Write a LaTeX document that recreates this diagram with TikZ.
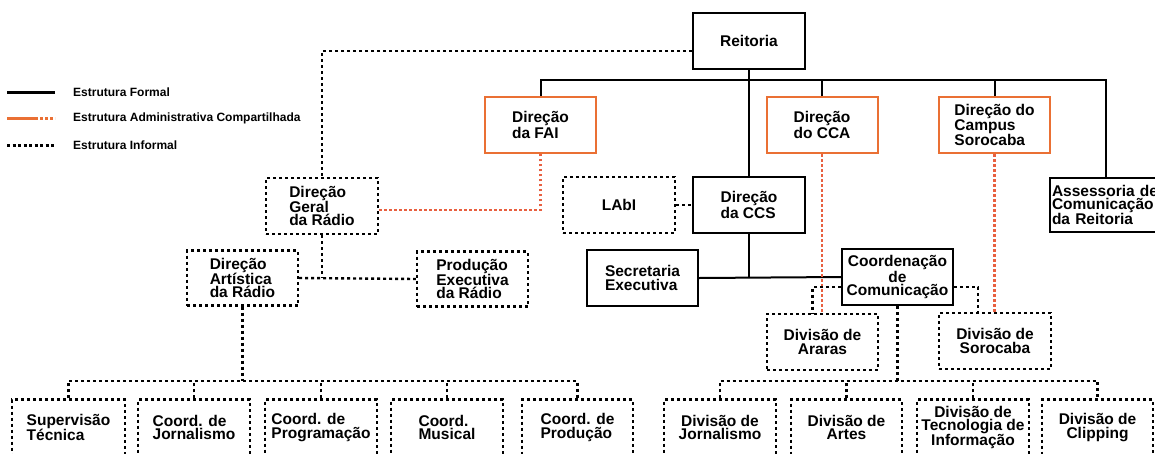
\documentclass[tikz,border=0pt]{standalone}
\usepackage{fontspec}
\setmainfont{Liberation Sans}
\definecolor{orng}{RGB}{234,112,52}
\definecolor{orngdot}{RGB}{232,96,64}
\begin{document}
\begin{tikzpicture}[x=1pt,y=-1pt,
  lbl/.style={font=\fontsize{15.5}{13.2}\selectfont\bfseries, inner sep=0pt},
  formalbox/.style={draw, line width=2pt, minimum width=112pt, minimum height=56pt, lbl},
  orangebox/.style={formalbox, draw=orng},
  infbox/.style={formalbox, line width=2.4pt, dash pattern=on 3pt off 3pt},
  formal/.style={line width=2pt},
  informal/.style={line width=2.4pt, dash pattern=on 3pt off 3pt},
  shared/.style={line width=2.2pt, draw=orngdot, dash pattern=on 2.5pt off 2.5pt},
  legtext/.style={anchor=west, inner sep=0pt, font=\fontsize{12}{12}\selectfont\bfseries},
]
\useasboundingbox (0,0) rectangle (1155,453);
\clip (0,0) rectangle (1155,453);
\fill[white] (0,0) rectangle (1155,453);

% legend
\coordinate (la1) at (7,92);  \coordinate (lb1) at (55,92);
\coordinate (la2) at (7,118); \coordinate (lm2) at (35,118); \coordinate (lb2) at (55,118);
\coordinate (la3) at (7,145); \coordinate (lb3) at (55,145);
\draw[line width=3pt] (la1) -- (lb1);
\draw[line width=3pt, orng] (la2) -- (lm2);
\draw[line width=3pt, orng, dash pattern=on 2.5pt off 2.5pt] (lm2) -- (lb2);
\draw[line width=3pt, dash pattern=on 3pt off 2.5pt] (la3) -- (lb3);
\node[legtext] (lt1) at (73,92) {Estrutura Formal};
\node[legtext] (lt2) at (73,118) {Estrutura Administrativa Compartilhada};
\node[legtext] (lt3) at (73,145) {Estrutura Informal};

% top level
\node[formalbox] (reit) at (749,41) {Reitoria};
\node[orangebox, align=left, minimum width=111pt] (fai) at (540.5,125) {Direção\\da FAI};
\node[orangebox, align=left, minimum width=111pt] (cca) at (822,125) {Direção\\do CCA};
\node[orangebox, align=left, minimum width=111pt] (campus) at (994.5,125) {Direção do\\Campus\\Sorocaba};
\node[formalbox, minimum height=54pt, align=left, text width=108pt] (assess) at (1106,205) {Assessoria de\\Comunicação\\da Reitoria};

% radio
\node[infbox, align=left] (geral) at (322,206) {Direção\\Geral\\da Rádio};
\node[infbox, align=left, minimum width=111pt, minimum height=55pt] (art) at (242.5,278) {Direção\\Artística\\da Rádio};
\node[infbox, align=left, minimum width=111pt, minimum height=55pt] (prod) at (472.5,279) {Produção\\Executiva\\da Rádio};

% CCS
\node[infbox] (labi) at (619,205) {LAbI};
\node[formalbox, align=left] (ccs) at (749,205) {Direção\\da CCS};
\node[formalbox, align=left, minimum width=111pt] (sec) at (642.5,278) {Secretaria\\Executiva};
\node[formalbox, align=center, minimum width=111pt] (coord) at (897.5,277) {Coordenação\\de\\Comunicação};
\node[infbox, align=center, minimum width=111pt] (arar) at (822.5,342) {Divisão de\\Araras};
\node[infbox, align=center] (dsor) at (995,341) {Divisão de\\Sorocaba};

% bottom row left
\node[infbox, align=left, minimum width=113pt] (sup) at (68.5,427.5) {Supervisão\\Técnica};
\node[infbox, align=left] (cjor) at (194,427.5) {Coord. de\\Jornalismo};
\node[infbox, align=left] (cprog) at (321,427.5) {Coord. de\\Programação};
\node[infbox, align=left] (cmus) at (447,427.5) {Coord.\\Musical};
\node[infbox, align=left, minimum width=111pt] (cprod) at (577.5,427.5) {Coord. de\\Produção};

% bottom row right
\node[infbox, align=center] (djor) at (720,427.5) {Divisão de\\Jornalismo};
\node[infbox, align=center, minimum width=111pt] (dart) at (846.5,427.5) {Divisão de\\Artes};
\node[infbox, align=center] (dtec) at (973,427.5) {Divisão de\\Tecnologia de\\Informação};
\node[infbox, align=center, minimum width=111pt] (dclip) at (1097.5,427.5) {Divisão de\\Clipping};

% formal connectors
\coordinate (busL) at (540.5,80);
\coordinate (busR) at (1106,80);
\draw[formal] (fai.north) -- (busL) -- (busR) -- (assess.north);
\draw[formal] (cca.north) -- (cca.north |- busL);
\draw[formal] (campus.north) -- (campus.north |- busL);
\draw[formal] (reit.south) -- (ccs.north);
\draw[formal] (ccs.south) -- (ccs.south |- sec.east);
\draw[formal] (sec.east) -- (coord.west);

% shared (orange) connectors
\draw[shared] ([yshift=-4pt]geral.east) -| (fai.south);
\draw[shared] (cca.south) -- (cca.south |- arar.north);
\draw[shared] (campus.south) -- (campus.south |- dsor.north);

% informal connectors
\coordinate (busy) at (0,381);
\draw[informal] ([yshift=-10pt]reit.west) -| (geral.north);
\draw[informal] (labi.east) -- (ccs.west);
\draw[informal] (art.east) -- (prod.west);
\draw[informal] (geral.south) -- (geral.south |- art.east);
\draw[informal] (art.south) -- (art.south |- busy);
\draw[informal] (sup.north) -- (sup.north |- busy) -- (cprod.north |- busy) -- (cprod.north);
\draw[informal] (cjor.north) -- (cjor.north |- busy);
\draw[informal] (cprog.north) -- (cprog.north |- busy);
\draw[informal] (cmus.north) -- (cmus.north |- busy);
\draw[informal] ([yshift=-10pt]coord.west) -| ([xshift=-10pt]arar.north);
\draw[informal] ([yshift=-10pt]coord.east) -| ([xshift=-17pt]dsor.north);
\draw[informal] (coord.south) -- (coord.south |- busy);
\draw[informal] (djor.north) -- (djor.north |- busy) -- (dclip.north |- busy) -- (dclip.north);
\draw[informal] (dart.north) -- (dart.north |- busy);
\draw[informal] (dtec.north) -- (dtec.north |- busy);
\end{tikzpicture}
\end{document}
